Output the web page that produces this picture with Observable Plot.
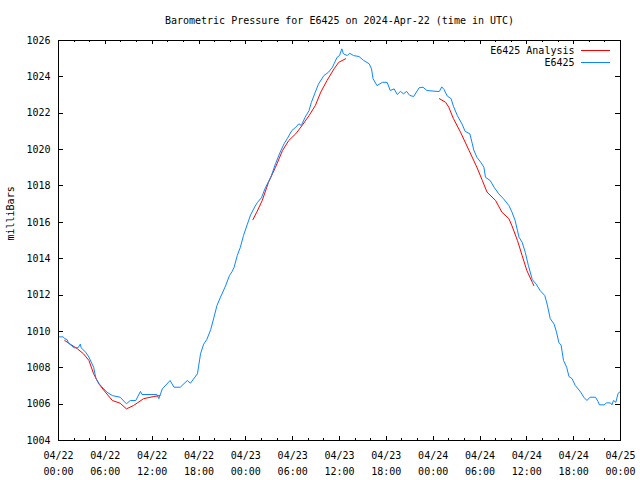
<!DOCTYPE html>
<html>
<head>
<meta charset="utf-8">
<script src="https://cdn.jsdelivr.net/npm/d3@7"></script>
<script src="https://cdn.jsdelivr.net/npm/@observablehq/plot@0.6"></script>
<style>
  html, body { margin: 0; padding: 0; background: #ffffff; }
</style>
</head>
<body>
<div id="chart"></div>
<script>
// ---------- text ----------
const titleText = "Barometric Pressure for E6425 on 2024-Apr-22 (time in UTC)";
const yAxisLabel = "milliBars";
const seriesNames = ["E6425 Analysis", "E6425"];
const startTimeUTC = "2024-04-22T00:00:00Z";
const spanHours = 72;

// ---------- station observations (hours after start, millibars) ----------
const stationHours = [
  0.0, 0.6, 0.8, 1.1, 1.3, 2.0, 2.5, 2.8, 2.9, 3.5, 3.9, 4.5, 4.8, 5.2, 5.8, 6.2, 6.9, 7.9,
  8.7, 9.2, 9.9, 10.5, 10.7, 12.6, 12.85, 13.3, 14.3, 14.8, 15.6, 16.5, 16.9, 17.8, 18.2, 18.6,
  19.0, 19.5, 19.9, 20.3, 20.75, 21.4, 21.9, 22.25, 22.5, 22.9, 23.3, 23.7, 24.2, 24.6, 25.2,
  25.5, 26.0, 26.5, 27.2, 27.8, 28.4, 28.9, 29.3, 29.9, 30.4, 30.8, 31.1, 31.6, 32.1, 32.4,
  32.9, 33.3, 34.0, 34.6, 35.1, 35.3, 35.7, 36.0, 36.3, 36.5, 37.0, 37.3, 37.8, 38.5, 39.1,
  39.8, 40.1, 40.3, 40.8, 41.5, 42.1, 42.5, 43.0, 43.4, 43.8, 44.2, 44.6, 45.0, 45.5, 46.2,
  46.7, 47.2, 48.5, 48.8, 49.1, 49.4, 49.8, 50.3, 50.6, 51.1, 51.7, 52.1, 52.7, 53.0, 53.2,
  53.6, 54.1, 54.5, 54.7, 55.3, 55.8, 56.4, 57.0, 57.7, 58.1, 58.5, 59.0, 59.4, 59.8, 60.2,
  60.7, 61.2, 61.7, 62.3, 62.6, 63.0, 63.5, 63.8, 64.1, 64.4, 64.7, 65.1, 65.4, 65.8, 66.2,
  66.9, 67.3, 67.7, 68.1, 68.8, 69.1, 69.3, 69.9, 70.2, 70.7, 70.9, 71.1, 71.4, 71.7, 72.0
];
const stationValues = [
  1009.7, 1009.7, 1009.6, 1009.55, 1009.35, 1009.1, 1009.1, 1009.3, 1009.1, 1008.85, 1008.58,
  1008.03, 1007.4, 1007.12, 1006.84, 1006.66, 1006.47, 1006.38, 1006.02, 1006.2, 1006.2,
  1006.7, 1006.53, 1006.53, 1006.3, 1006.84, 1007.3, 1006.93, 1006.93, 1007.3, 1007.15,
  1007.67, 1008.77, 1009.3, 1009.55, 1010.1, 1010.75, 1011.42, 1011.88, 1012.5, 1013.07,
  1013.3, 1013.53, 1014.17, 1014.63, 1015.27, 1015.9, 1016.4, 1016.9, 1017.1, 1017.35,
  1017.9, 1018.48, 1019.22, 1019.86, 1020.32, 1020.6, 1021.05, 1021.23, 1021.42, 1021.32,
  1021.78, 1022.15, 1022.6, 1023.16, 1023.6, 1024.07, 1024.26, 1024.53, 1024.72, 1025.08,
  1025.17, 1025.54, 1025.27, 1025.17, 1025.3, 1025.17, 1025.12, 1024.9, 1024.72, 1024.44,
  1023.9, 1023.52, 1023.7, 1023.7, 1023.25, 1023.34, 1023.03, 1023.2, 1023.07, 1023.2,
  1022.98, 1022.92, 1023.4, 1023.43, 1023.25, 1023.2, 1023.2, 1023.45, 1023.3, 1022.95,
  1022.8, 1022.38, 1021.87, 1021.4, 1021.0, 1020.87, 1020.35, 1019.98, 1019.58, 1019.3,
  1019.03, 1018.48, 1018.3, 1017.93, 1017.57, 1017.3, 1016.92, 1016.56, 1016.1, 1015.18,
  1014.9, 1014.35, 1013.62, 1012.85, 1012.6, 1012.25, 1011.97, 1011.5, 1010.7, 1010.4,
  1009.96, 1009.4, 1009.22, 1008.4, 1008.03, 1007.52, 1007.4, 1007.03, 1006.66, 1006.38,
  1006.2, 1006.38, 1006.38, 1006.16, 1005.96, 1005.96, 1006.07, 1006.07, 1005.96, 1006.2,
  1006.1, 1006.6, 1006.7
];

// ---------- analysis (three separate runs) ----------
const analysisHours = [
  0.8, 1.5, 2.4, 3.2, 3.9, 4.5, 5.2, 6.0, 6.9, 7.9, 8.7, 9.6, 10.9, 12.2, 13.0,
  24.9, 25.4, 26.1, 26.9, 27.8, 28.7, 29.5, 30.4, 31.2, 32.1, 32.9, 33.6, 34.4, 35.3, 35.9, 36.8,
  48.8, 49.6, 50.0, 50.6, 51.5, 52.6, 53.6, 54.3, 54.9, 56.0, 56.8, 57.7, 58.1, 58.8, 59.4, 60.0, 60.7, 60.9
];
const analysisValues = [
  1009.5, 1009.3, 1009.05, 1008.77, 1008.4, 1007.67, 1007.1, 1006.66, 1006.2, 1006.05, 1005.74,
  1005.92, 1006.3, 1006.42, 1006.47,
  1016.14, 1016.56, 1017.2, 1018.2, 1019.03, 1019.95, 1020.5, 1020.87, 1021.32, 1021.87,
  1022.42, 1023.16, 1023.8, 1024.44, 1024.8, 1025.0,
  1022.8, 1022.6, 1022.33, 1021.7, 1020.96, 1019.95, 1019.03, 1018.3, 1017.66, 1017.2,
  1016.56, 1016.2, 1015.8, 1015.0, 1014.17, 1013.35, 1012.7, 1012.52
];
const analysisRun = [
  1,1,1,1,1,1,1,1,1,1,1,1,1,1,1,
  2,2,2,2,2,2,2,2,2,2,2,2,2,2,2,2,
  3,3,3,3,3,3,3,3,3,3,3,3,3,3,3,3,3,3
];

// ---------- axis ticks ----------
const yTicks = [1004, 1006, 1008, 1010, 1012, 1014, 1016, 1018, 1020, 1022, 1024, 1026];
const xMajorStepHours = 6;
const xMinorStepHours = 2;

// ---------- build ----------
const t0 = new Date(startTimeUTC);
const toDate = h => new Date(+t0 + h * 3600e3);
const t1 = toDate(spanHours);
const station = stationHours.map((h, i) => ({time: toDate(h), value: stationValues[i]}));
const analysis = analysisHours.map((h, i) => ({time: toDate(h), value: analysisValues[i], run: analysisRun[i]}));
const xMajor = d3.utcHour.every(xMajorStepHours).range(t0, new Date(+t1 + 1));
const xMinor = d3.utcHour.every(xMinorStepHours).range(t0, new Date(+t1 + 1));
const fmt = d3.utcFormat("%m/%d\n%H:%M");

const RED = "#ff0000";
const BLUE = "#0c87ff";
const seriesColors = [RED, BLUE];
const FONT = "'DejaVu Sans Mono', 'Liberation Mono', monospace";

// inward tick marks on all four sides, placed with Plot's x and y scales
function tickMarks(index, scales, values, dimensions) {
  const g = d3.create("svg:g").attr("stroke", "#000000").attr("stroke-width", 1).attr("fill", "none");
  const L = dimensions.marginLeft;
  const R = dimensions.width - dimensions.marginRight;
  const T = dimensions.marginTop;
  const B = dimensions.height - dimensions.marginBottom;
  const seg = (x1, y1, x2, y2) => g.append("line").attr("x1", x1).attr("y1", y1).attr("x2", x2).attr("y2", y2);
  const majorSet = new Set(xMajor.map(d => +d));
  xMinor.forEach(d => {
    const px = Math.round(scales.x(d)) + 0.5;
    const len = majorSet.has(+d) ? 4 : 2;
    seg(px, B, px, B - len);
    seg(px, T, px, T + len);
  });
  yTicks.forEach(v => {
    const py = Math.round(scales.y(v)) + 0.5;
    seg(L, py, L + 5, py);
    seg(R, py, R - 5, py);
  });
  return g.node();
}

// legend line samples, positioned relative to the frame's top-right corner
function legendLines(index, scales, values, dimensions) {
  const g = d3.create("svg:g");
  const xr = dimensions.width - dimensions.marginRight;
  const yt = dimensions.marginTop;
  seriesNames.forEach((name, i) => {
    const y = Math.round(yt + 10 + 12 * i) + 0.5;
    g.append("line")
      .attr("x1", xr - 39).attr("x2", xr - 10)
      .attr("y1", y).attr("y2", y)
      .attr("stroke", seriesColors[i]).attr("stroke-width", 1);
  });
  return g.node();
}

const chart = Plot.plot({
  width: 640,
  height: 480,
  marginLeft: 58,
  marginRight: 20,
  marginTop: 40,
  marginBottom: 40,
  style: {fontFamily: FONT, fontSize: "10px", background: "#ffffff", color: "#000000", overflow: "visible"},
  x: {type: "utc", domain: [t0, t1]},
  y: {domain: [1004, 1026]},
  marks: [
    // tick labels
    Plot.axisX(xMajor, {anchor: "bottom", tickSize: 0, tickPadding: 7, lineHeight: 1.6, label: null, tickFormat: fmt, fontSize: 10}),
    Plot.axisY(yTicks, {anchor: "left", tickSize: 0, tickPadding: 8, label: null, tickFormat: d => String(d), fontSize: 10}),
    // data
    Plot.line(analysis, {x: "time", y: "value", z: "run", stroke: RED, strokeWidth: 1}),
    Plot.line(station, {x: "time", y: "value", stroke: BLUE, strokeWidth: 1}),
    // ticks and frame
    tickMarks,
    Plot.frame({stroke: "#000000", strokeWidth: 1}),
    // title and y label
    Plot.text([titleText], {frameAnchor: "top", dy: -20, lineAnchor: "middle", text: d => d, fontSize: 10}),
    Plot.text([yAxisLabel], {frameAnchor: "left", dx: -48, rotate: -90, text: d => d, fontSize: 10}),
    // legend
    Plot.text([seriesNames[0]], {frameAnchor: "top-right", dx: -46, dy: 10.5, lineAnchor: "middle", textAnchor: "end", text: d => d, fontSize: 10}),
    Plot.text([seriesNames[1]], {frameAnchor: "top-right", dx: -46, dy: 22.5, lineAnchor: "middle", textAnchor: "end", text: d => d, fontSize: 10}),
    legendLines
  ]
});
document.getElementById("chart").appendChild(chart);
</script>
</body>
</html>
